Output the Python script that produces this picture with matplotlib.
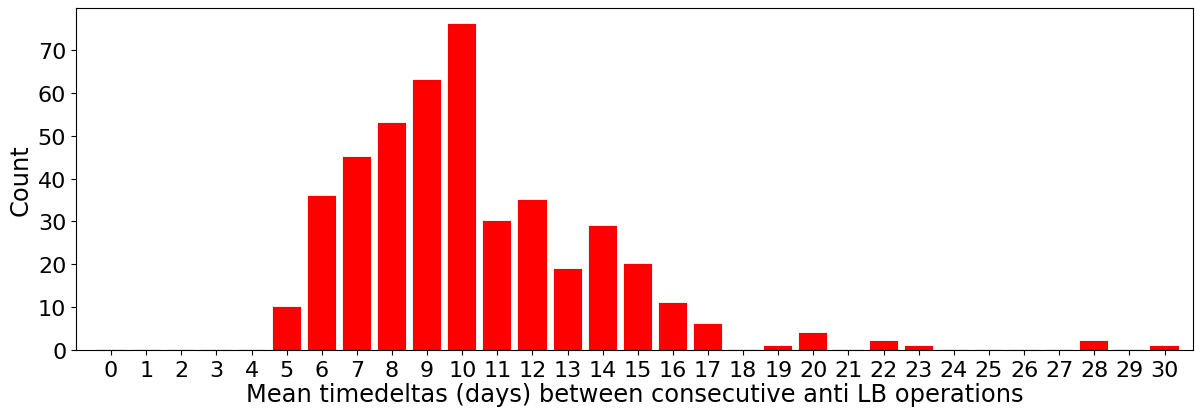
import matplotlib
matplotlib.use("Agg")
import matplotlib.pyplot as plt
import numpy as np

# Mean interval per run, bucketed by day
days = list(range(31))
counts = [0, 0, 0, 0, 0, 10, 36, 45, 53, 63, 76, 30, 35, 19, 29, 20, 11, 6,
          0, 1, 4, 0, 2, 1, 0, 0, 0, 0, 2, 0, 1]

fig = plt.figure(figsize=(11.95, 4.1), dpi=100)
ax = fig.add_axes([0.0636, 0.144, 0.9344, 0.834])

ax.bar(days, counts, color="red", width=0.8, edgecolor="darkred", linewidth=0.1)

ax.set_xticks(days)
ax.set_xlim(-1, 30.8)
ax.set_ylim(0, 79.8)
ax.set_yticks(range(0, 80, 10))
ax.tick_params(labelsize=16)
ax.set_xlabel("Mean timedeltas (days) between consecutive anti LB operations", fontsize=17.4, labelpad=2)
ax.set_ylabel("Count", fontsize=17.4)

fig.savefig("out.png", dpi=100)
